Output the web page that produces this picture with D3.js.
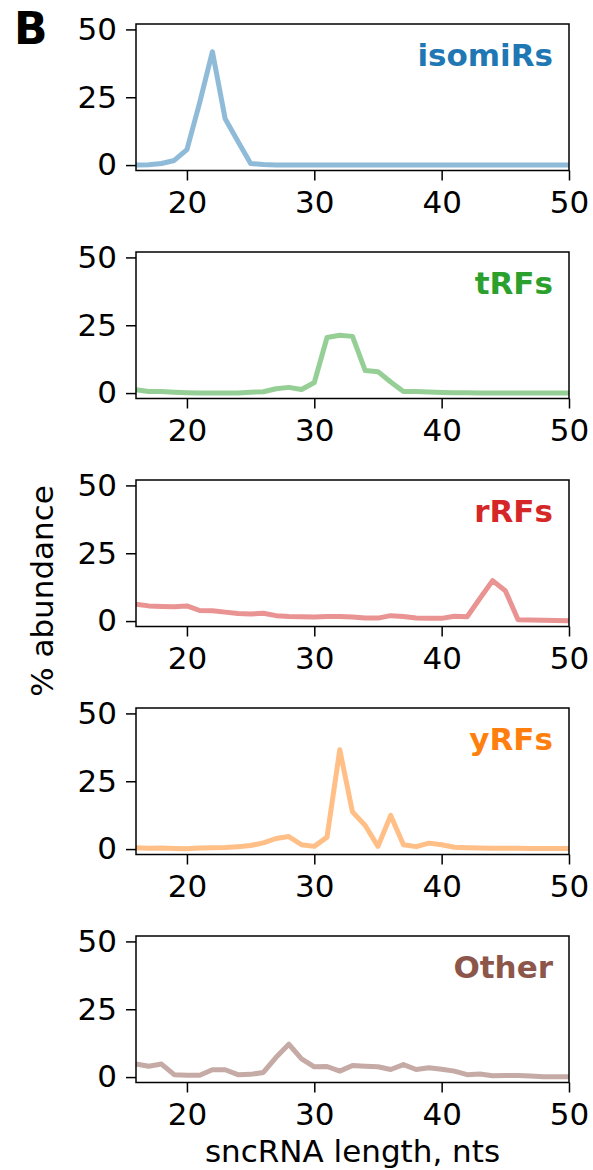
<!DOCTYPE html>
<html>
<head>
<meta charset="utf-8">
<script src="https://cdn.jsdelivr.net/npm/d3@7"></script>
<style>
  body { margin: 0; background: #fff; }
  svg { display: block; font-family: "DejaVu Sans", sans-serif; }
</style>
</head>
<body>
<div id="chart"></div>
<script>
// sncRNA length (nts)
const lengths = [16, 17, 18, 19, 20, 21, 22, 23, 24, 25, 26, 27, 28, 29, 30, 31, 32, 33,
    34, 35, 36, 37, 38, 39, 40, 41, 42, 43, 44, 45, 46, 47, 48, 49, 50];

// % abundance per length, one array per sncRNA class
const isomiRs = [0, 0.1, 0.6, 1.7, 5.7, 23, 41.8, 17.1, 8.8, 0.6, 0.2, 0, 0, 0, 0, 0, 0, 0,
    0, 0, 0, 0, 0, 0, 0, 0, 0, 0, 0, 0, 0, 0, 0, 0, 0];
const tRFs = [1.2, 0.6, 0.6, 0.3, 0.1, 0, 0, 0, 0, 0.3, 0.5, 1.6, 2.1, 1.3, 3.9, 20.5, 21.3, 20.9,
    8.3, 7.9, 4.1, 0.6, 0.6, 0.4, 0.2, 0.1, 0.1, 0, 0, 0, 0, 0, 0, 0, 0];
const rRFs = [6.2, 5.6, 5.4, 5.3, 5.6, 3.9, 3.8, 3.3, 2.8, 2.6, 2.9, 2.0, 1.7, 1.6, 1.5, 1.7, 1.7, 1.5,
    1.1, 1.1, 2.0, 1.7, 1.1, 1.0, 1.0, 1.8, 1.6, 8.3, 14.9, 11.2, 0.5, 0.4, 0.3, 0.2, 0.1];
const yRFs = [0.5, 0.3, 0.4, 0.2, 0.1, 0.4, 0.5, 0.6, 0.9, 1.3, 2.3, 3.9, 4.6, 1.6, 1.0, 4.4, 36.6, 13.7,
    8.7, 1.0, 12.4, 1.6, 0.9, 2.2, 1.6, 0.7, 0.5, 0.4, 0.3, 0.3, 0.3, 0.2, 0.2, 0.2, 0.2];
const other = [4.8, 4.0, 4.8, 0.9, 0.7, 0.7, 2.7, 2.7, 0.9, 1.0, 1.7, 7.3, 12.1, 6.7, 3.8, 3.9, 2.2, 4.3,
    4.0, 3.8, 2.8, 4.6, 2.8, 3.4, 2.9, 2.2, 0.9, 1.1, 0.5, 0.6, 0.6, 0.4, 0.1, 0.1, 0.1];

const classNames = ["isomiRs", "tRFs", "rRFs", "yRFs", "Other"];
const classColors = ["#1f77b4", "#2ca02c", "#d62728", "#ff7f0e", "#8c564b"];
const classValues = [isomiRs, tRFs, rRFs, yRFs, other];

const xTicks = [20, 30, 40, 50];
const yTicks = [0, 25, 50];

// Figure geometry
const width = 593, height = 1170;
const left = 136, right = 569;
const panelTop = 24, panelHeight = 146.5, panelStep = 228;
const fontSize = 31;

const svg = d3.select("#chart")
    .append("svg")
    .attr("width", width)
    .attr("height", height);

const x = d3.scaleLinear().domain([16, 50]).range([left, right]);

classNames.forEach((name, i) => {
    const top = panelTop + i * panelStep;
    const y = d3.scaleLinear().domain([-2, 52]).range([top + panelHeight, top]);
    const data = lengths.map((len, j) => ({ len: len, val: classValues[i][j] }));

    const g = svg.append("g");

    // the line, drawn with half alpha like the original
    g.append("path")
        .datum(data)
        .attr("fill", "none")
        .attr("stroke", classColors[i])
        .attr("stroke-opacity", 0.5)
        .attr("stroke-width", 5)
        .attr("stroke-linejoin", "round")
        .attr("d", d3.line().x(d => x(d.len)).y(d => y(d.val)));

    // X axis
    const xAxis = g.append("g")
        .attr("transform", `translate(0,${top + panelHeight})`)
        .call(d3.axisBottom(x).tickValues(xTicks).tickSize(10).tickSizeOuter(0).tickPadding(10));
    // Y axis
    const yAxis = g.append("g")
        .attr("transform", `translate(${left},0)`)
        .call(d3.axisLeft(y).tickValues(yTicks).tickSize(10).tickSizeOuter(0).tickPadding(9));

    [xAxis, yAxis].forEach(ax => {
        ax.select(".domain").remove();
        ax.selectAll("line").attr("stroke", "#000").attr("stroke-width", 1.5);
        ax.selectAll("text")
            .attr("fill", "#000")
            .style("font-family", "'DejaVu Sans', sans-serif")
            .style("font-size", fontSize + "px");
    });

    // axes frame
    g.append("rect")
        .attr("x", left)
        .attr("y", top)
        .attr("width", right - left)
        .attr("height", panelHeight)
        .attr("fill", "none")
        .attr("stroke", "#000")
        .attr("stroke-width", 1.5);

    // class label
    g.append("text")
        .attr("x", right - 16)
        .attr("y", top + 42)
        .attr("text-anchor", "end")
        .attr("fill", classColors[i])
        .style("font-weight", "bold")
        .style("font-size", fontSize + "px")
        .text(name);
});

// X label
svg.append("text")
    .attr("x", (left + right) / 2)
    .attr("y", 1162)
    .attr("text-anchor", "middle")
    .style("font-size", fontSize + "px")
    .text("sncRNA length, nts");

// Y label
svg.append("text")
    .attr("transform", "rotate(-90)")
    .attr("x", -591)
    .attr("y", 53)
    .attr("text-anchor", "middle")
    .style("font-size", fontSize + "px")
    .text("% abundance");

// panel letter
svg.append("text")
    .attr("x", 14)
    .attr("y", 44)
    .style("font-size", "44px")
    .style("font-weight", "bold")
    .text("B");
</script>
</body>
</html>
